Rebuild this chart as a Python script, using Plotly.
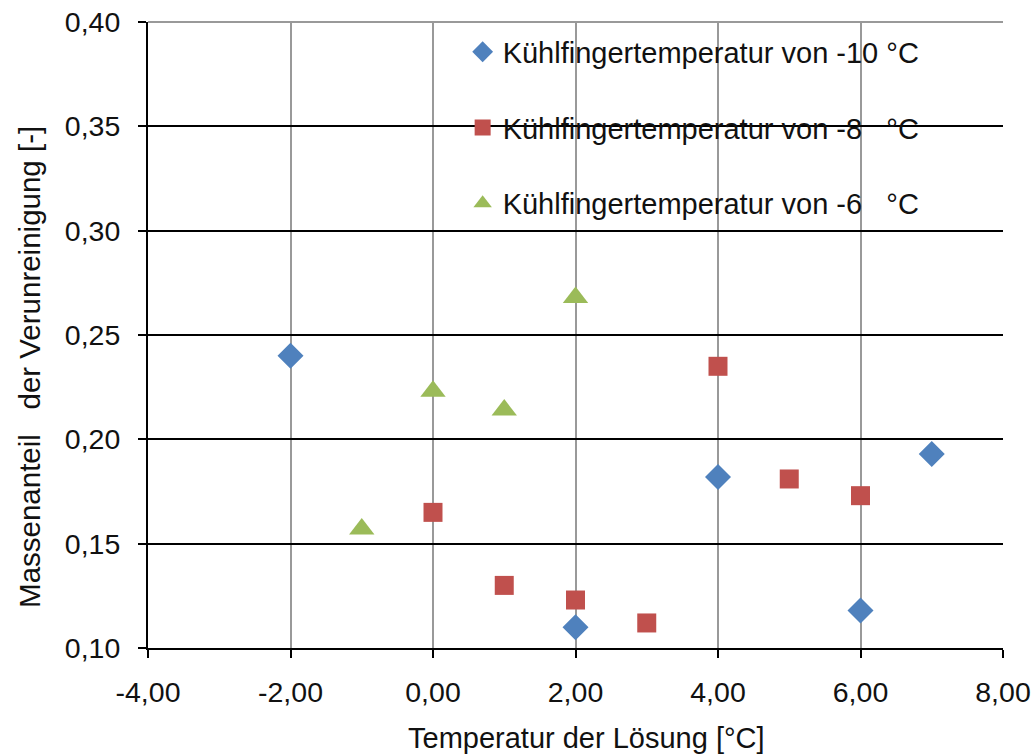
import plotly.graph_objects as go

# Data
x_m10 = [-2, 2, 4, 6, 7]
y_m10 = [0.240, 0.110, 0.182, 0.118, 0.193]
x_m8 = [0, 1, 2, 3, 4, 5, 6]
y_m8 = [0.165, 0.130, 0.123, 0.112, 0.235, 0.181, 0.173]
x_m6 = [-1, 0, 1, 2]
y_m6 = [0.157, 0.223, 0.214, 0.268]
names = ["Kühlfingertemperatur von -10 °C",
         "Kühlfingertemperatur von -8\u00a0\u00a0 °C",
         "Kühlfingertemperatur von -6\u00a0\u00a0 °C"]
x_ticks = [-4, -2, 0, 2, 4, 6, 8]
y_ticks = [0.10, 0.15, 0.20, 0.25, 0.30, 0.35, 0.40]
x_title = "Temperatur der Lösung [°C]"
y_title = "Massenanteil\u00a0\u00a0 der Verunreinigung [-]"

def fmt(v):
    return f"{v:.2f}".replace(".", ",")

FONT = "Liberation Sans, Arial, sans-serif"
fig = go.Figure()
fig.add_trace(go.Scatter(x=x_m10, y=y_m10, mode="markers", name=names[0], legendgroup="a",
                         marker=dict(symbol="diamond", size=20, color="#4F81BD")))
fig.add_trace(go.Scatter(x=x_m8, y=y_m8, mode="markers", name=names[1], legendgroup="b",
                         marker=dict(symbol="square", size=19, color="#C0504D")))
fig.add_trace(go.Scatter(x=x_m6, y=y_m6, mode="markers", name=names[2], legendgroup="c",
                         marker=dict(symbol="triangle-up", size=22, color="#9BBB59")))

fig.update_layout(
    width=1033, height=755,
    margin=dict(l=148, r=30, t=22, b=107),
    paper_bgcolor="white", plot_bgcolor="white",
    font=dict(family=FONT, size=28.5, color="#111"),
    legend=dict(x=0.368, y=0.993, xanchor="left", yanchor="top",
                bgcolor="rgba(0,0,0,0)", traceorder="grouped", tracegroupgap=35,
                font=dict(size=29, color="#111"), itemwidth=30),
    xaxis=dict(range=[-4, 8], tickvals=x_ticks, ticktext=[fmt(v) for v in x_ticks],
               showgrid=True, gridcolor="#999", gridwidth=1.5, zeroline=False,
               showline=True, linecolor="black", linewidth=2, automargin=False,
               ticks="outside", ticklen=8, tickwidth=2, tickcolor="black",
               ticklabelstandoff=10),
    yaxis=dict(range=[0.10, 0.40], tickvals=y_ticks, ticktext=[fmt(v) for v in y_ticks],
               showgrid=True, gridcolor="black", gridwidth=1.5, zeroline=False,
               showline=True, linecolor="black", linewidth=2, automargin=False,
               ticks="outside", ticklen=8, tickwidth=2, tickcolor="black",
               ticklabelstandoff=12),
    shapes=[dict(type="line", xref="paper", yref="paper", x0=0, x1=1, y0=1, y1=1,
                 line=dict(color="#999", width=2), layer="above")],
    annotations=[
        dict(text=x_title, xref="paper", yref="paper", x=0.513, y=-0.144,
             xanchor="center", yanchor="middle", showarrow=False,
             font=dict(size=29, color="#111")),
        dict(text=y_title, xref="paper", yref="paper", x=-0.138, y=0.449,
             xanchor="center", yanchor="middle", showarrow=False, textangle=-90,
             font=dict(size=29.5, color="#111")),
    ],
)
fig.write_html("out.html")
